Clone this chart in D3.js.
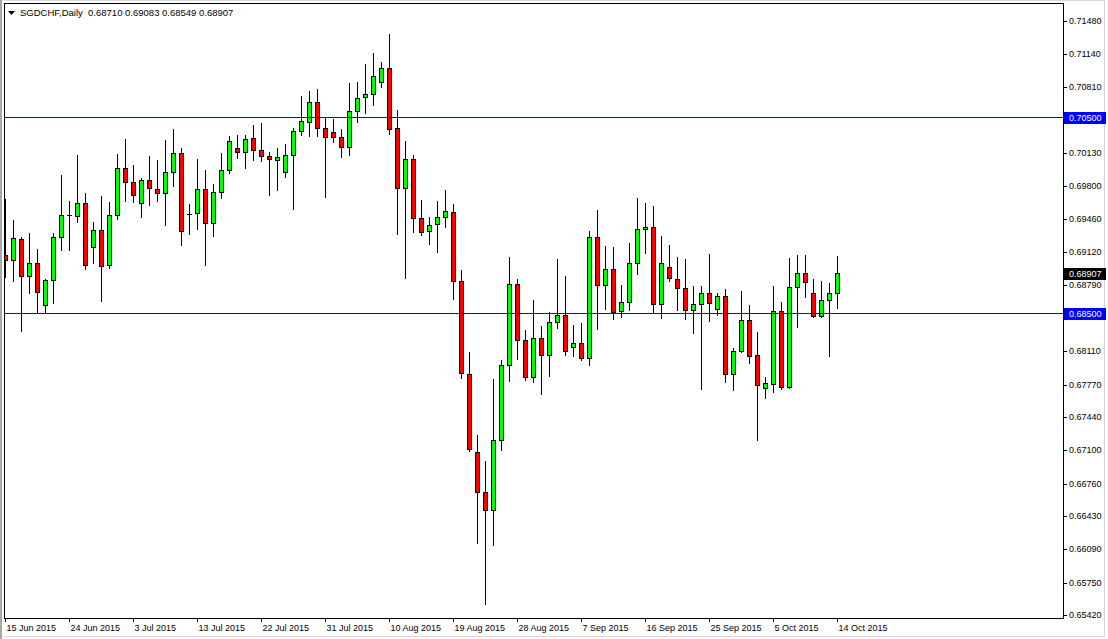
<!DOCTYPE html>
<html><head><meta charset="utf-8">
<script src="https://cdn.jsdelivr.net/npm/d3@7"></script>
<style>
body{margin:0;background:#fff;}
svg{display:block;}
text{font-family:"Liberation Sans",Arial,sans-serif;}
</style>
</head><body>
<svg id="chart" width="1108" height="639"></svg>
<script>
// ---------------- data ----------------
const symbolTitle = "SGDCHF,Daily";
const opens = [0.69093,0.69042,0.69256,0.68879,0.69011,0.68583,0.68838,0.69277,0.69501,0.69491,
0.69623,0.69175,0.69348,0.68991,0.69501,0.69980,0.69838,0.69623,0.69858,0.69766,
0.69725,0.69940,0.70133,0.69511,0.69521,0.69766,0.69419,0.69736,0.69960,0.70184,
0.70144,0.70286,0.70164,0.70103,0.70062,0.69940,0.70113,0.70358,0.70450,0.70654,
0.70388,0.70348,0.70297,0.70195,0.70562,0.70705,0.70735,0.70858,0.71000,0.70388,
0.69776,0.70072,0.69470,0.69338,0.69409,0.69481,0.69532,0.68828,0.67879,0.67084,
0.66676,0.66492,0.67206,0.67971,0.68797,0.68226,0.67849,0.68246,0.68073,0.68410,
0.68481,0.68155,0.68195,0.68042,0.69277,0.68787,0.68950,0.68522,0.68614,0.69011,
0.69358,0.69379,0.68593,0.68971,0.68848,0.68756,0.68532,0.68593,0.68705,0.68542,
0.68675,0.67879,0.68114,0.68430,0.68073,0.67736,0.67777,0.68522,0.67747,0.68767,
0.68909,0.68705,0.68471,0.68634,0.68710];
const highs = [0.69664,0.69450,0.69277,0.69317,0.69154,0.68848,0.69317,0.69909,0.69644,0.70113,
0.69725,0.69430,0.69695,0.69634,0.70123,0.70276,0.70011,0.69878,0.70103,0.70062,
0.70266,0.70378,0.70184,0.69613,0.70072,0.69960,0.69817,0.70133,0.70307,0.70317,
0.70317,0.70419,0.70439,0.70144,0.70184,0.70225,0.70388,0.70715,0.70766,0.70786,
0.70501,0.70480,0.70378,0.70847,0.70858,0.71041,0.71153,0.71062,0.71347,0.70572,
0.70256,0.70113,0.69654,0.69481,0.69644,0.69756,0.69613,0.68940,0.68104,0.67257,
0.66992,0.67828,0.68022,0.69073,0.68848,0.68328,0.68634,0.68369,0.68512,0.69052,
0.68879,0.68379,0.68399,0.69338,0.69552,0.69185,0.69175,0.68787,0.69215,0.69674,
0.69623,0.69593,0.69287,0.69195,0.69073,0.69052,0.68777,0.68777,0.69103,0.68705,
0.68746,0.68144,0.68726,0.68583,0.68308,0.67849,0.68777,0.68614,0.69062,0.69093,
0.69093,0.68848,0.68828,0.68807,0.69083];
const lows = [0.68869,0.68828,0.68318,0.68705,0.68501,0.68512,0.68603,0.69144,0.69144,0.69430,
0.68950,0.69011,0.68624,0.68960,0.69460,0.69644,0.69634,0.69481,0.69603,0.69644,
0.69399,0.69797,0.69195,0.69307,0.69358,0.68991,0.69287,0.69674,0.69929,0.70082,
0.69980,0.70062,0.70052,0.69705,0.69756,0.69889,0.69562,0.70317,0.70307,0.70307,
0.69685,0.70246,0.70093,0.70113,0.70450,0.70541,0.70623,0.70807,0.70327,0.69307,
0.68858,0.69328,0.69297,0.69205,0.69124,0.69379,0.68644,0.67838,0.67094,0.66155,
0.65533,0.66135,0.67104,0.67808,0.68032,0.67818,0.67798,0.67675,0.67859,0.68348,
0.68073,0.68063,0.68022,0.67971,0.68338,0.68542,0.68440,0.68461,0.68532,0.68899,
0.69113,0.68512,0.68450,0.68828,0.68532,0.68440,0.68297,0.67726,0.68420,0.68481,
0.67798,0.67716,0.68104,0.67991,0.67206,0.67634,0.67696,0.67726,0.67737,0.68359,
0.68665,0.68461,0.68461,0.68063,0.68549];
const closes = [0.69042,0.69266,0.68879,0.69011,0.68716,0.68838,0.69277,0.69501,0.69501,0.69623,
0.68991,0.69348,0.68981,0.69501,0.69980,0.69838,0.69705,0.69858,0.69776,0.69725,
0.69940,0.70133,0.69338,0.69511,0.69766,0.69419,0.69736,0.69960,0.70256,0.70144,
0.70276,0.70164,0.70103,0.70072,0.70093,0.70113,0.70358,0.70460,0.70654,0.70388,
0.70297,0.70297,0.70195,0.70562,0.70694,0.70735,0.70919,0.71000,0.70378,0.69776,
0.70072,0.69470,0.69328,0.69399,0.69481,0.69542,0.68828,0.67889,0.67114,0.66676,
0.66492,0.67206,0.67971,0.68797,0.68226,0.67849,0.68246,0.68073,0.68410,0.68481,
0.68114,0.68195,0.68042,0.69277,0.68787,0.68950,0.68512,0.68614,0.69011,0.69358,
0.69379,0.68593,0.69011,0.68858,0.68756,0.68532,0.68593,0.68705,0.68603,0.68675,
0.67879,0.68114,0.68430,0.68063,0.67767,0.67787,0.68522,0.67747,0.68767,0.68909,
0.68818,0.68471,0.68634,0.68705,0.68907];
const dateTickIndex = [0,8,16,24,32,40,48,56,64,72,80,88,96,104];
const dateTickLabels = ["15 Jun 2015","24 Jun 2015","3 Jul 2015","13 Jul 2015","22 Jul 2015","31 Jul 2015",
"10 Aug 2015","19 Aug 2015","28 Aug 2015","7 Sep 2015","16 Sep 2015","25 Sep 2015","5 Oct 2015","14 Oct 2015"];
const priceTicks = [0.71480,0.71140,0.70810,0.70470,0.70130,0.69800,0.69460,0.69120,0.68790,0.68450,
0.68110,0.67770,0.67440,0.67100,0.66760,0.66430,0.66090,0.65750,0.65420];
const levelLines = [0.70500,0.68500];

// ---------------- layout ----------------
const svg = d3.select("#chart");
const frame = {left:4, top:3, right:1063, bottom:618};
const x = d3.scaleLinear().domain([0,104]).range([5,837]);
const y = d3.scaleLinear().domain([0.65420,0.71480]).range([615,21]);
const bars = opens.map((o,i)=>({i,o,h:highs[i],l:lows[i],c:closes[i]}));
const last = bars[bars.length-1];

// window border
svg.append("rect").attr("x",0.5).attr("y",0.5).attr("width",1104).attr("height",636)
  .attr("fill","#fff").attr("stroke","#d8d8d8");
svg.append("rect").attr("x",0).attr("y",0).attr("width",2).attr("height",639).attr("fill","#a8a8a8");

svg.append("defs").append("clipPath").attr("id","plot")
  .append("rect").attr("x",frame.left).attr("y",frame.top)
  .attr("width",frame.right-frame.left).attr("height",frame.bottom-frame.top);

const plot = svg.append("g").attr("clip-path","url(#plot)");

// candles
const cx = d=>Math.round(x(d.i))+0.5;
const g = plot.selectAll("g.bar").data(bars).join("g").attr("class","bar");
g.append("line")
  .attr("x1",cx).attr("x2",cx)
  .attr("y1",d=>Math.round(y(d.h)))
  .attr("y2",d=>Math.round(y(d.l))+1)
  .style("stroke","#000").style("stroke-width",1);
g.each(function(d){
  const sel = d3.select(this);
  const top = Math.round(y(Math.max(d.o,d.c)));
  const bot = Math.round(y(Math.min(d.o,d.c)));
  if (bot-top < 1) {
    sel.append("line").attr("x1",cx(d)-2.5).attr("x2",cx(d)+2.5)
      .attr("y1",top+0.5).attr("y2",top+0.5).style("stroke","#000");
  } else {
    sel.append("rect").attr("x",cx(d)-2).attr("y",top+0.5)
      .attr("width",4).attr("height",bot-top)
      .style("fill",d.c>d.o?"#00ff00":"#ff0000")
      .style("stroke","#000").style("stroke-width",1);
  }
});

// level lines (drawn over the candles) as 1px filled strips
svg.append("g").selectAll("rect").data(levelLines).join("rect")
  .attr("x",frame.left).attr("width",frame.right-frame.left)
  .attr("y",d=>Math.round(y(d))).attr("height",1)
  .style("fill","#0000ff").style("stroke","none");

// frame
svg.append("rect").attr("x",frame.left+0.5).attr("y",frame.top+0.5)
  .attr("width",frame.right-frame.left).attr("height",frame.bottom-frame.top)
  .style("fill","none").style("stroke","#000");

// right price axis (labels hidden behind the level tags are left blank)
const coveredByTag = v => levelLines.some(l => Math.abs(y(l)-y(v)) < 7);
const yAxis = d3.axisRight(y).tickValues(priceTicks).tickSize(4).tickPadding(2)
  .tickFormat(v => coveredByTag(v) ? "" : d3.format(".5f")(v));
const ya = svg.append("g").attr("transform",`translate(${frame.right},0)`).call(yAxis);
ya.select(".domain").remove();
ya.selectAll("text").attr("font-size",9).attr("fill","#000").attr("font-family","Liberation Sans, Arial, sans-serif");
ya.selectAll("line").attr("stroke","#000");
ya.selectAll(".tick").attr("transform",d=>`translate(0,${Math.round(y(d))+0.5})`);

// bottom date axis
const xAxis = d3.axisBottom(x).tickValues(dateTickIndex).tickSize(4).tickPadding(2.5)
  .tickFormat((d,i)=>dateTickLabels[i]);
const xa = svg.append("g").attr("transform",`translate(0,${frame.bottom})`).call(xAxis);
xa.select(".domain").remove();
xa.selectAll("text").attr("text-anchor","start").attr("x",1).attr("font-size",9)
  .attr("fill","#000").attr("font-family","Liberation Sans, Arial, sans-serif");
xa.selectAll("line").attr("stroke","#000");

// level labels and current price
function priceTag(v, bg){
  const yy = Math.round(y(v));
  svg.append("rect").attr("x",frame.right+1).attr("y",yy-5).attr("width",42).attr("height",12).style("fill",bg);
  svg.append("text").attr("x",frame.right+6).attr("y",yy+0.5).attr("dy","0.35em")
    .attr("font-size",9).style("fill","#fff").text(d3.format(".5f")(v));
}
levelLines.forEach(v=>priceTag(v,"#0000ff"));
priceTag(last.c,"#000");

// title
svg.append("path").attr("d","M8,11 L15,11 L11.5,15 Z").style("fill","#000");
svg.append("text").attr("x",20).attr("y",16).attr("font-size",9.5).style("fill","#000")
  .attr("xml:space","preserve")
  .text(`${symbolTitle}  ${[last.o,last.h,last.l,last.c].map(d3.format(".5f")).join(" ")}`);
</script>
</body></html>
